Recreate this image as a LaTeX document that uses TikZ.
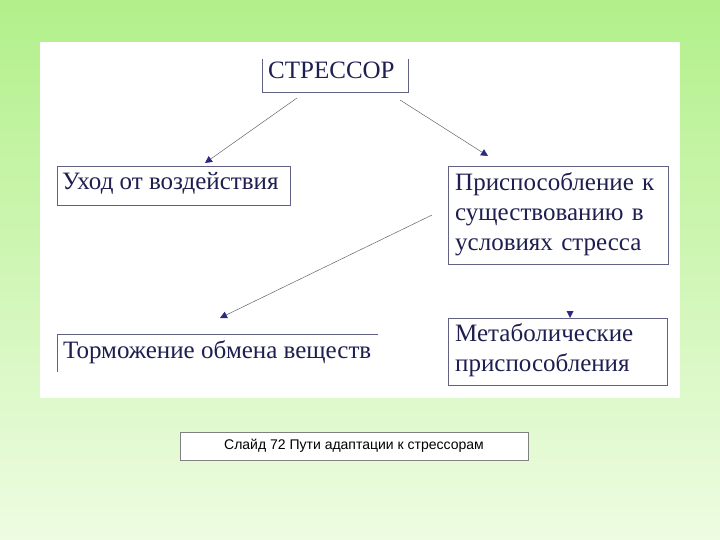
\documentclass[tikz,border=0pt]{standalone}
\usepackage{fontspec}
\setmainfont{Liberation Serif}
\newfontfamily\capfont{Liberation Sans}
\usetikzlibrary{arrows.meta}
\definecolor{bgtop}{HTML}{B2F08A}
\definecolor{bgbot}{HTML}{EEFCE2}
\definecolor{ink}{HTML}{1E1E50}
\definecolor{arr}{HTML}{2A2A80}
\tikzset{
  lbl/.style={font=\fontsize{25}{30}\selectfont, text=ink, align=left, anchor=north west, inner sep=0pt},
  conn/.style={draw=gray!80!black, line width=0.5pt, -{Triangle[length=7pt,width=7pt,fill=arr,color=arr]}},
  frame/.style={draw=ink!70, line width=0.7pt}
}
\begin{document}
\begin{tikzpicture}[x=1pt,y=-1pt]
\useasboundingbox (0,0) rectangle (720,540);
\shade[top color=bgtop, bottom color=bgbot] (0,0) rectangle (720,540);
\fill[white] (40,42) rectangle (680,398);
% boxes
\draw[frame] (262,59) -- (262,92) -- (408,92) -- (408,59);
\node[lbl] (s) at (268,62) {СТРЕССОР};
\coordinate (sl) at (297,98); \coordinate (sr) at (400,100);
\draw[frame] (57,166) rectangle (290,205);
\node[lbl] (u) at (62,172) {Уход от воздействия};
\coordinate (ut) at (205,163);
\draw[frame] (448,166) rectangle (668,264);
\node[lbl, text width=215pt] (p) at (455,172) {Приспособление к\\существованию в\\условиях стресса};
\coordinate (pt) at (488,156); \coordinate (pl) at (432,215);
\draw[frame] (378,334) -- (57,334) -- (57,372);
\node[lbl] (t) at (63,340) {Торможение обмена веществ};
\coordinate (tt) at (220,318);
\draw[frame] (448,318) rectangle (667,385);
\node[lbl, text width=215pt] (m) at (455,323) {Метаболические\\приспособления};
\coordinate (mt) at (570,318);
% connectors
\draw[conn] (sl) -- (ut);
\draw[conn] (sr) -- (pt);
\draw[conn] (pl) -- (tt);
\fill[arr] (mt) -- ++(-3.5,-7) -- ++(7,0) -- cycle;
% caption
\node[draw=gray, fill=white, font=\capfont\fontsize{14}{16}\selectfont, minimum width=348pt, minimum height=28pt, inner sep=2pt] (c) at (354,446) {Слайд 72 Пути адаптации к стрессорам};
\end{tikzpicture}
\end{document}
